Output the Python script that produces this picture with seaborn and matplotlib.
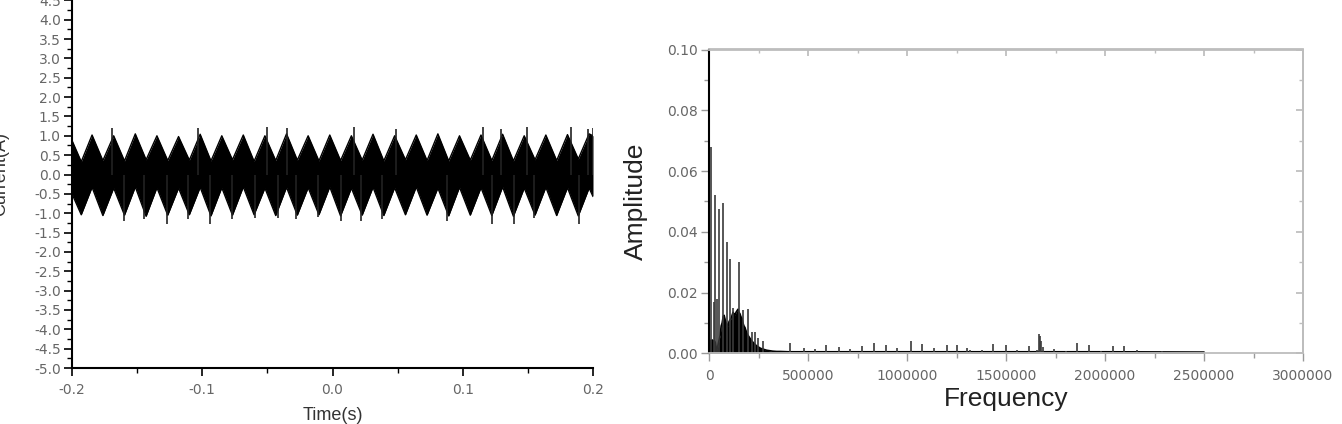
import numpy as np
import pandas as pd
import matplotlib
matplotlib.use("Agg")
import matplotlib.pyplot as plt
import seaborn as sns
from matplotlib.ticker import MultipleLocator, FormatStrFormatter

# ---------------- data: left panel (time signal envelope)
env_time = [-0.2000, -0.1929, -0.1846, -0.1763, -0.1680, -0.1597, -0.1514, -0.1431, -0.1348, -0.1265,
            -0.1182, -0.1099, -0.1016, -0.0933, -0.0850, -0.0768, -0.0685, -0.0602, -0.0519, -0.0436,
            -0.0353, -0.0270, -0.0187, -0.0104, -0.0021, 0.0062, 0.0145, 0.0228, 0.0311, 0.0394,
            0.0477, 0.0560, 0.0643, 0.0726, 0.0809, 0.0892, 0.0975, 0.1058, 0.1140, 0.1223,
            0.1306, 0.1389, 0.1472, 0.1555, 0.1638, 0.1721, 0.1804, 0.1887, 0.1970, 0.2000]
env_upper = [0.88, 0.33, 1.02, 0.36, 1.00, 0.35, 1.05, 0.38, 1.00, 0.36,
             0.98, 0.37, 1.04, 0.35, 1.00, 0.38, 1.02, 0.34, 1.00, 0.36,
             1.05, 0.37, 1.00, 0.35, 1.02, 0.36, 1.00, 0.37, 1.04, 0.35,
             1.00, 0.38, 1.02, 0.36, 1.05, 0.35, 1.00, 0.37, 1.02, 0.36,
             1.04, 0.35, 1.00, 0.38, 1.02, 0.36, 1.03, 0.40, 1.05, 1.00]
env_lower = [-0.50, -1.04, -0.33, -1.06, -0.35, -1.05, -0.32, -1.08, -0.34, -1.05,
             -0.35, -1.04, -0.33, -1.07, -0.34, -1.05, -0.32, -1.04, -0.35, -1.06,
             -0.33, -1.05, -0.34, -1.04, -0.32, -1.07, -0.35, -1.05, -0.33, -1.06,
             -0.34, -1.04, -0.32, -1.05, -0.35, -1.07, -0.33, -1.05, -0.34, -1.06,
             -0.32, -1.08, -0.35, -1.05, -0.33, -1.06, -0.34, -1.07, -0.35, -0.57]
spike_up_t = [-0.1692, -0.1031, -0.0500, -0.0346, 0.0162, 0.0485, 0.1159, 0.1292, 0.1492, 0.1831, 0.1962, 0.2000]
spike_up_v = [1.21, 1.20, 1.22, 1.20, 1.23, 1.17, 1.23, 1.17, 1.23, 1.23, 1.17, 1.20]
spike_dn_t = [-0.1600, -0.1446, -0.1269, -0.1108, -0.0938, -0.0769, -0.0592, -0.0415, -0.0277,
              -0.0108, 0.0062, 0.0215, 0.0382, 0.0882, 0.1228, 0.1392, 0.1546, 0.1892]
spike_dn_v = [-1.19, -1.15, -1.27, -1.15, -1.27, -1.15, -1.12, -1.12, -1.15,
              -1.10, -1.20, -1.20, -1.15, -1.20, -1.29, -1.27, -1.12, -1.28]
time_ticks = [-0.2, -0.1, 0.0, 0.1, 0.2]

# ---------------- data: right panel (spectrum)
spec_freq = [0, 5000, 10000, 15000, 20000, 25000, 30000, 35000, 40000, 45000, 50000, 55000,
             60000, 65000, 70000, 75000, 80000, 85000, 90000, 95000, 100000, 105000, 110000,
             115000, 120000, 125000, 130000, 135000, 140000, 145000, 150000, 155000, 160000,
             165000, 170000, 175000, 180000, 185000, 190000, 195000, 200000, 205000, 210000,
             215000, 220000, 225000, 230000, 235000, 240000, 245000, 250000, 255000, 260000,
             265000, 270000, 275000, 280000, 285000, 290000, 300000, 310000, 320000, 340000,
             360000, 400000, 1000000, 1600000, 2000000, 2500000]
spec_amp = [0.0045, 0.0042, 0.0040, 0.0044, 0.0038, 0.0042, 0.0036, 0.0016, 0.0014, 0.0030, 0.0045, 0.0060,
            0.0090, 0.0100, 0.0120, 0.0125, 0.0110, 0.0100, 0.0095, 0.0090, 0.0105, 0.0110, 0.0115,
            0.0125, 0.0135, 0.0130, 0.0125, 0.0135, 0.0140, 0.0145, 0.0135, 0.0130, 0.0120,
            0.0115, 0.0100, 0.0090, 0.0085, 0.0075, 0.0065, 0.0060, 0.0055, 0.0050, 0.0045,
            0.0040, 0.0037, 0.0033, 0.0030, 0.0027, 0.0024, 0.0022, 0.0020, 0.0018, 0.0016,
            0.0015, 0.0014, 0.0013, 0.0012, 0.0011, 0.0010, 0.0009, 0.0008, 0.0007, 0.0006,
            0.0006, 0.0005, 0.0005, 0.0005, 0.0005, 0.0004]
peak_freq = [10000, 22000, 29000, 37000, 51000, 68000, 89600, 106500, 121600, 152000, 169000, 196000,
             216000, 230000, 247000, 270000,
             408800, 476000, 535000, 591000, 653000, 713000, 772000, 834000, 895000, 949000,
             1017000, 1076000, 1135000, 1203000, 1253000, 1304000, 1317000, 1380000, 1436000,
             1498000, 1557000, 1616000, 1655000, 1668000, 1672000, 1678000, 1684000, 1740000,
             1802000, 1858000, 1920000, 1979000, 2040000, 2097000, 2162000, 2285000]
peak_amp = [0.0678, 0.0170, 0.0521, 0.0180, 0.0474, 0.0496, 0.0366, 0.0311, 0.0149, 0.0300, 0.0143, 0.0145,
            0.0070, 0.0070, 0.0050, 0.0040,
            0.0033, 0.0017, 0.0013, 0.0028, 0.0020, 0.0013, 0.0024, 0.0033, 0.0028, 0.0017,
            0.0042, 0.0030, 0.0017, 0.0026, 0.0028, 0.0017, 0.0011, 0.0011, 0.0031,
            0.0028, 0.0011, 0.0024, 0.0011, 0.0063, 0.0058, 0.0040, 0.0022, 0.0013,
            0.0006, 0.0033, 0.0028, 0.0008, 0.0025, 0.0025, 0.0010, 0.0009]
freq_ticks = [0, 500000, 1000000, 1500000, 2000000, 2500000, 3000000]

# ---------------- style
sns.set_theme(style="ticks")
plt.rcParams['font.family'] = ['Liberation Sans', 'DejaVu Sans']

W, H = 1342, 424
fig = plt.figure(figsize=(W / 100, H / 100), dpi=100)

tick_col = '#666666'
tick_font = {'family': 'DejaVu Sans', 'size': 10}

def style_ticklabels(ax):
    for lab in ax.get_xticklabels() + ax.get_yticklabels():
        lab.set_fontfamily(tick_font['family'])
        lab.set_fontsize(tick_font['size'])
        lab.set_color(tick_col)

# ---------------- left panel
axL = fig.add_axes([72 / W, 56 / H, 521 / W, 387 / H])
sig = pd.DataFrame({'t': env_time, 'up': env_upper, 'lo': env_lower})
axL.fill_between(sig['t'], sig['lo'], sig['up'], color='black', lw=0)
sns.lineplot(data=sig, x='t', y='up', ax=axL, color='black', lw=1.0)
sns.lineplot(data=sig, x='t', y='lo', ax=axL, color='black', lw=1.0)
axL.vlines(spike_up_t, 0, spike_up_v, color='#222222', lw=1.2)
axL.vlines(spike_dn_t, spike_dn_v, 0, color='#222222', lw=1.2)

axL.set_xlim(-0.2, 0.2)
axL.set_ylim(-5.0, 5.0)
axL.set_xticks(time_ticks)
axL.xaxis.set_major_formatter(FormatStrFormatter('%.1f'))
axL.xaxis.set_minor_locator(MultipleLocator(0.05))
axL.yaxis.set_major_locator(MultipleLocator(0.5))
axL.yaxis.set_minor_locator(MultipleLocator(0.25))
axL.yaxis.set_major_formatter(FormatStrFormatter('%.1f'))
for s in ['top', 'right']:
    axL.spines[s].set_visible(False)
for s in ['left', 'bottom']:
    axL.spines[s].set_color('black')
    axL.spines[s].set_linewidth(1.5)
axL.tick_params(axis='both', which='major', direction='out', length=6, width=1.2,
                color='black', pad=2)
axL.tick_params(axis='both', which='minor', direction='out', length=3.5, width=1.0, color='black')
axL.tick_params(axis='x', which='major', pad=5)
axL.set_xlabel('Time(s)', fontsize=13, color='#333333', va='top')
axL.set_ylabel('Current(A)', fontsize=13, color='#333333')
axL.xaxis.set_label_coords(0.5, -0.102)
axL.yaxis.set_label_coords(-0.12, 0.5)
style_ticklabels(axL)

# ---------------- right panel
axR = fig.add_axes([709.3 / W, 70.7 / H, 593.7 / W, 303.8 / H])
spec = pd.DataFrame({'f': spec_freq, 'a': spec_amp})
axR.fill_between(spec['f'], 0, spec['a'], color='black', lw=0)
sns.lineplot(data=spec, x='f', y='a', ax=axR, color='black', lw=1.2)
axR.vlines(peak_freq, 0, peak_amp, color='#3a3a3a', lw=1.2)

axR.set_xlim(0, 3000000)
axR.set_ylim(0, 0.10)
axR.set_xticks(freq_ticks)
axR.set_xticklabels([str(v) for v in freq_ticks])
axR.xaxis.set_minor_locator(MultipleLocator(250000))
axR.yaxis.set_major_locator(MultipleLocator(0.02))
axR.yaxis.set_minor_locator(MultipleLocator(0.01))
axR.yaxis.set_major_formatter(FormatStrFormatter('%.2f'))
for s in ['top', 'right', 'bottom']:
    axR.spines[s].set_color('#bdbdbd')
    axR.spines[s].set_linewidth(1.3)
axR.spines['left'].set_color('black')
axR.spines['left'].set_linewidth(1.5)
axR.tick_params(axis='both', which='major', direction='out', length=6, width=1.0,
                color='#9a9a9a', pad=2)
axR.tick_params(axis='both', which='minor', direction='out', length=3.5, width=1.0, color='#9a9a9a')
axR.tick_params(axis='x', which='major', pad=5)
# inward ticks on the top and right frame
axT = axR.secondary_xaxis('top')
axT.set_xticks(freq_ticks)
axT.xaxis.set_minor_locator(MultipleLocator(250000))
axT.tick_params(axis='x', which='major', direction='in', length=5, color='#bdbdbd', labeltop=False)
axT.tick_params(axis='x', which='minor', direction='in', length=3, color='#bdbdbd')
axT.spines['top'].set_color('#bdbdbd')
axT.spines['top'].set_linewidth(1.3)
axRt = axR.secondary_yaxis('right')
axRt.yaxis.set_major_locator(MultipleLocator(0.02))
axRt.yaxis.set_minor_locator(MultipleLocator(0.01))
axRt.tick_params(axis='y', which='major', direction='in', length=5, color='#bdbdbd', labelright=False)
axRt.tick_params(axis='y', which='minor', direction='in', length=3, color='#bdbdbd')
axRt.spines['right'].set_color('#bdbdbd')
axRt.spines['right'].set_linewidth(1.3)

axR.set_xlabel('Frequency', fontsize=19, color='#222222', va='top')
axR.set_ylabel('Amplitude', fontsize=19, color='#222222')
axR.xaxis.set_label_coords(0.5, -0.11)
axR.yaxis.set_label_coords(-0.104, 0.5)
style_ticklabels(axR)

fig.savefig('out.png', dpi=100)
